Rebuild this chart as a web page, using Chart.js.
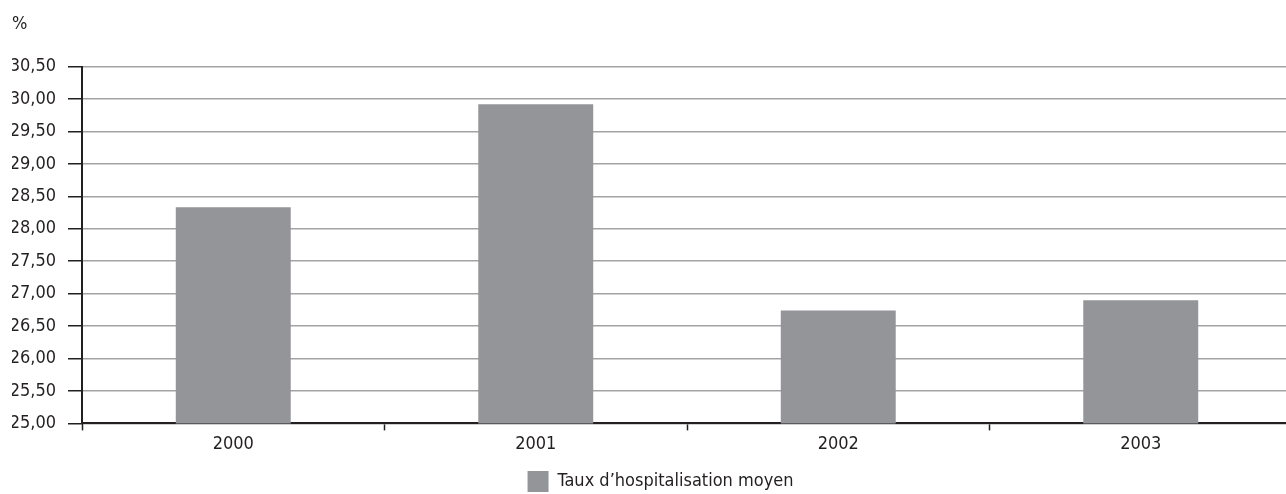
<!DOCTYPE html>
<html lang="fr">
<head>
<meta charset="utf-8">
<title>Taux d'hospitalisation moyen</title>
<script src="https://cdn.jsdelivr.net/npm/chart.js@4.4.1/dist/chart.umd.min.js"></script>
<style>
  html, body { margin: 0; padding: 0; background: #ffffff; overflow: hidden; }
  #wrap { position: relative; width: 1309px; height: 502px; }
</style>
</head>
<body>
<div id="wrap"><canvas id="chart" width="1309" height="502"></canvas></div>
<script>
// Années et taux moyens (%)
const years = ['2000', '2001', '2002', '2003'];
const tauxMoyen = [28.33, 29.92, 26.74, 26.90];
const seriesLabel = 'Taux d\u2019hospitalisation moyen';
const unitLabel = '%';
const yMin = 25;
const yMax = 30.5;
const yStep = 0.5;

const FONT = "'DejaVu Sans Condensed', 'Liberation Sans', sans-serif";
const FONT_SIZE = 18;
const TEXT = '#231f20';
const BAR = '#939598';
const GRID = '#a3a3a3';
const AXIS = '#231f20';

Chart.defaults.font.family = FONT;
Chart.defaults.color = TEXT;

new Chart(document.getElementById('chart'), {
  type: 'bar',
  data: {
    labels: years,
    datasets: [{
      label: seriesLabel,
      data: tauxMoyen,
      backgroundColor: BAR,
      borderWidth: 0,
      barPercentage: 0.38,
      categoryPercentage: 1.0
    }]
  },
  options: {
    responsive: false,
    animation: false,
    layout: { padding: { left: 12, right: 0, top: 0, bottom: 0 } },
    plugins: {
      tooltip: { enabled: false },
      title: {
        display: true,
        text: unitLabel,
        align: 'start',
        color: TEXT,
        font: { size: FONT_SIZE, weight: 'normal' },
        padding: { top: 14, bottom: 31 }
      },
      legend: {
        position: 'bottom',
        labels: {
          boxWidth: 21,
          boxHeight: 21,
          padding: 12,
          color: TEXT,
          font: { size: FONT_SIZE }
        }
      }
    },
    scales: {
      x: {
        grid: {
          offset: true,
          drawOnChartArea: false,
          tickLength: 7,
          tickColor: AXIS,
          tickWidth: 1.5
        },
        border: { color: AXIS, width: 2 },
        ticks: { padding: 3.5, color: TEXT, font: { size: FONT_SIZE } }
      },
      y: {
        min: yMin,
        max: yMax,
        afterFit: (scale) => { scale.width = 70; },
        grid: {
          color: GRID,
          lineWidth: 1.5,
          tickLength: 14,
          tickColor: AXIS,
          tickWidth: 1.5
        },
        border: { color: AXIS, width: 2 },
        ticks: {
          stepSize: yStep,
          padding: 12,
          color: TEXT,
          font: { size: FONT_SIZE },
          callback: (v) => Number(v).toFixed(2).replace('.', ',')
        }
      },
      // empty margin to the right of the plot
      yMargin: {
        type: 'linear',
        position: 'right',
        min: yMin,
        max: yMax,
        afterFit: (scale) => { scale.width = 17; },
        grid: { display: false, drawOnChartArea: false },
        border: { display: false },
        ticks: { display: false }
      }
    }
  }
});
</script>
</body>
</html>
